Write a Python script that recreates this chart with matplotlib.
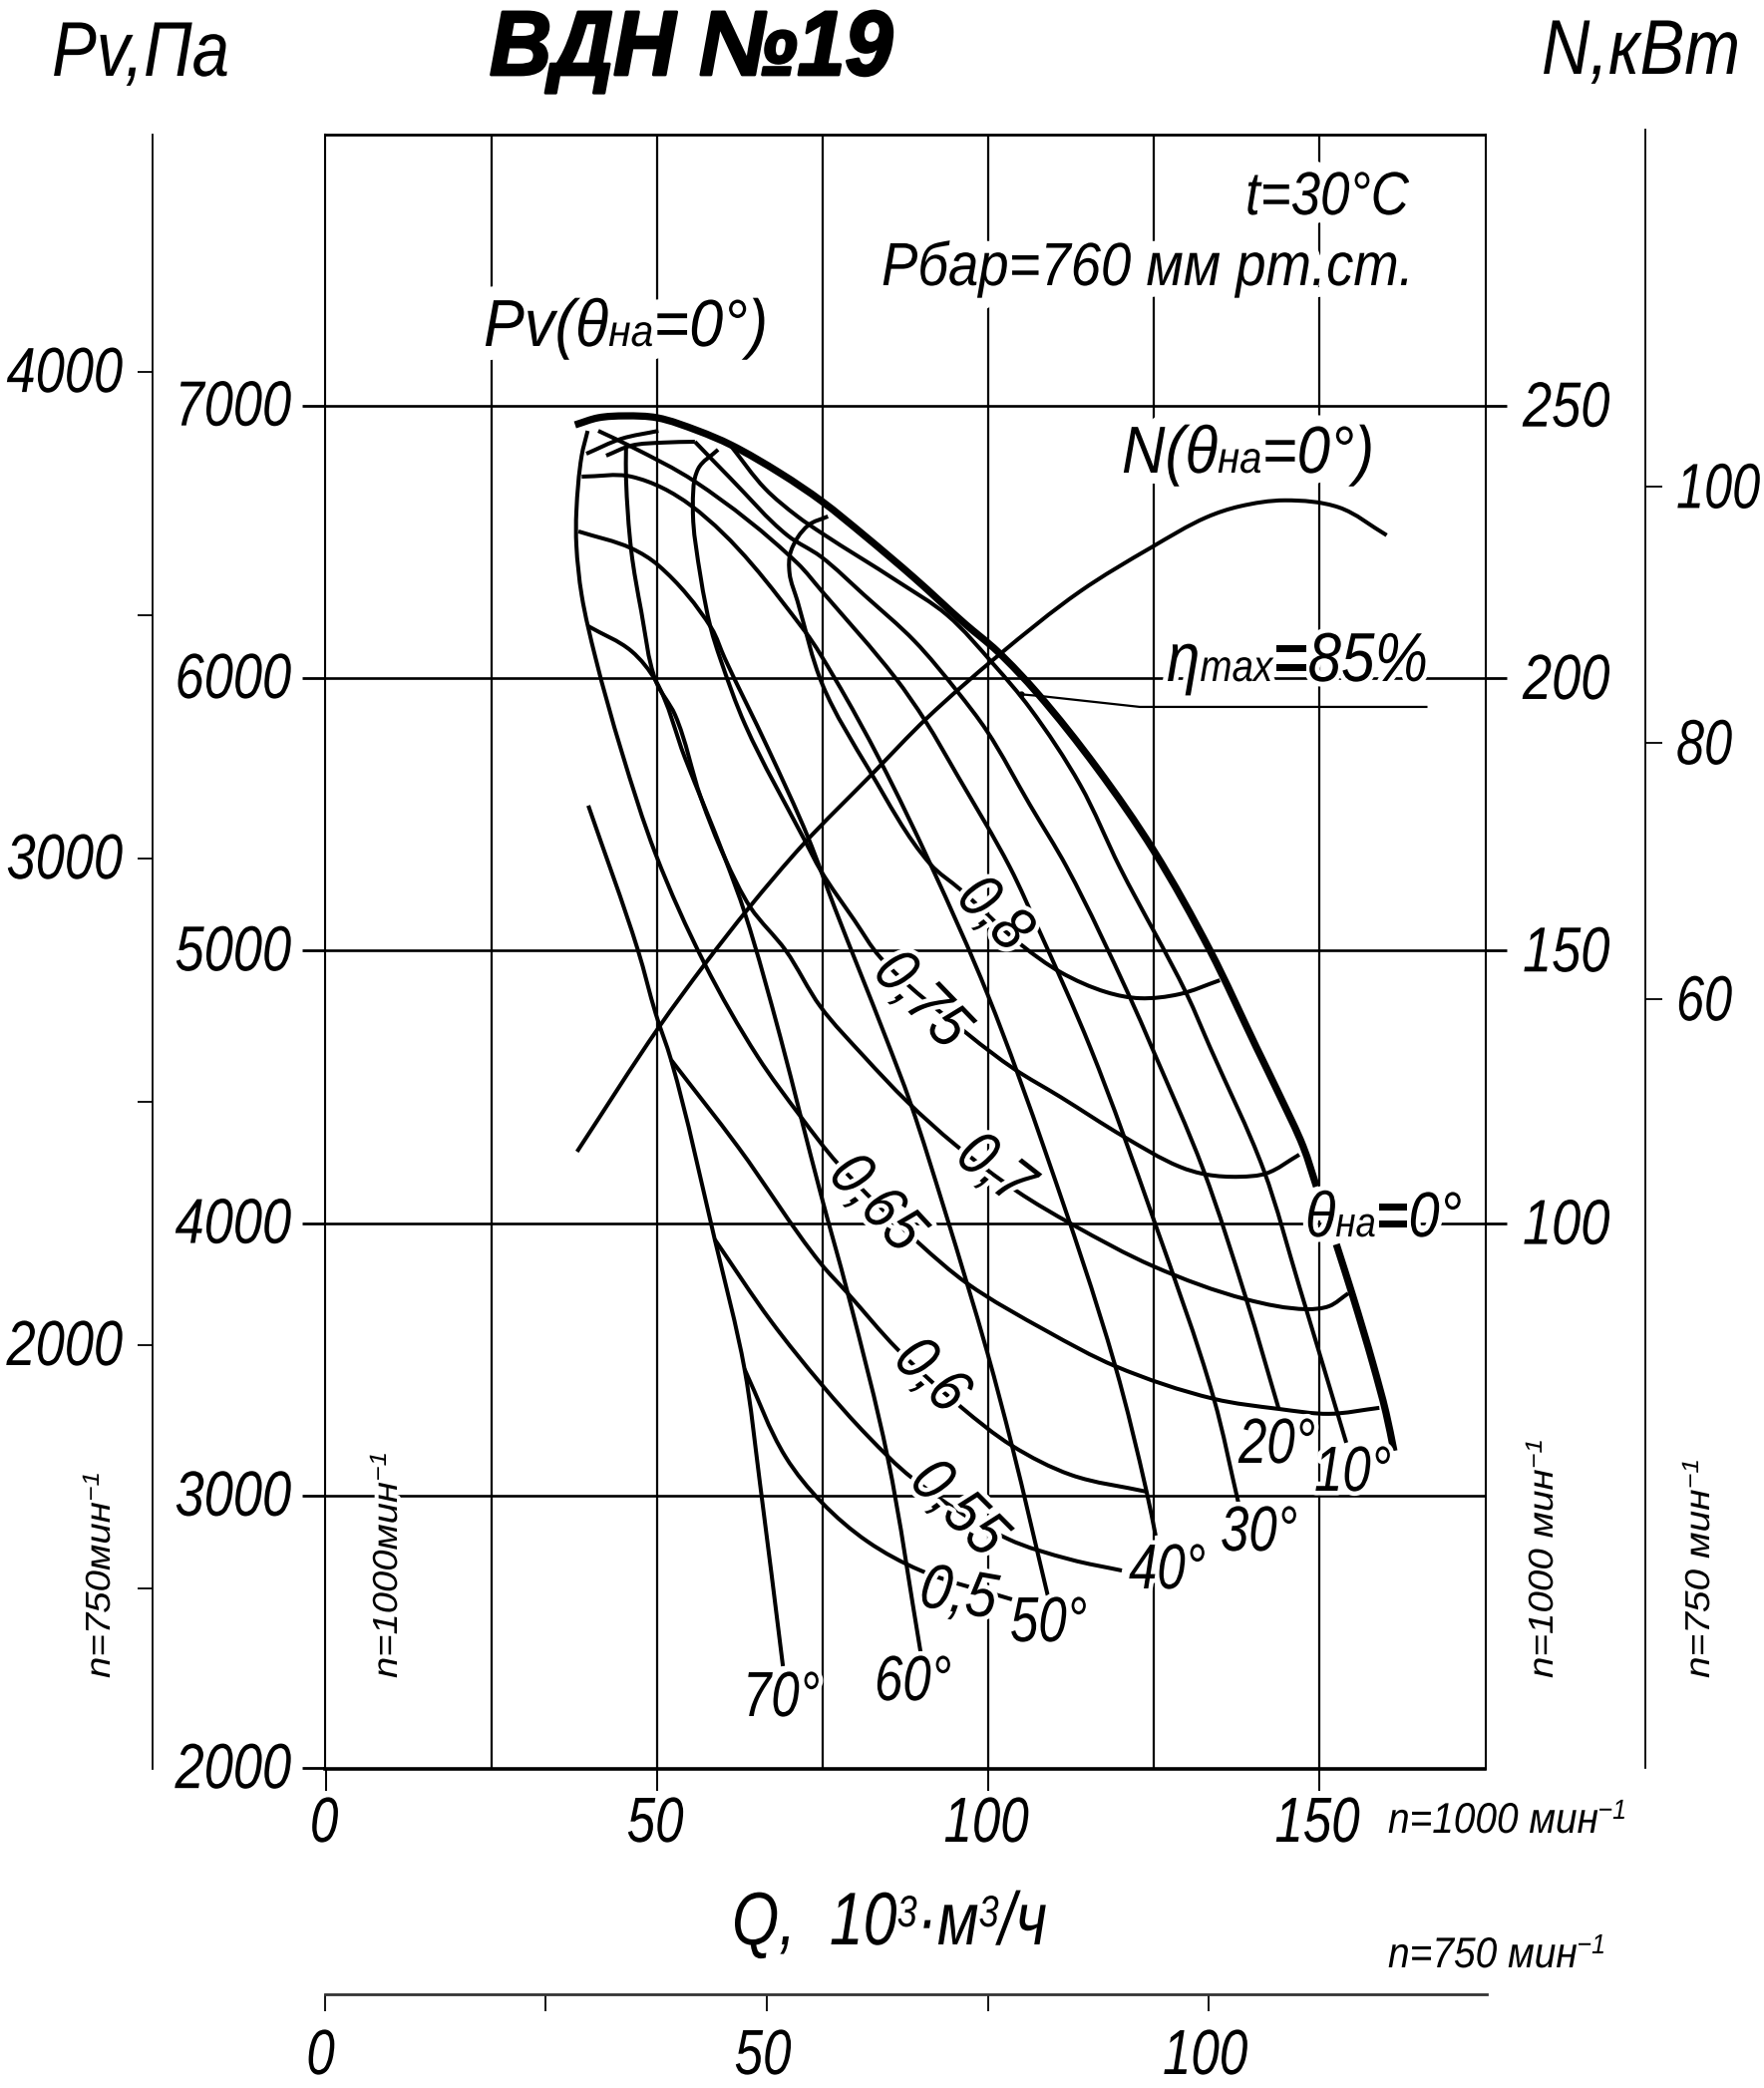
#!/usr/bin/env python
"""Fan chart VDN-19: pressure and power against flow."""

import math

import matplotlib

matplotlib.use("Agg")
import matplotlib.pyplot as plt
import numpy as np
from matplotlib.font_manager import FontProperties
from matplotlib.patheffects import AbstractPathEffect
from matplotlib.patches import PathPatch
from matplotlib.path import Path
from matplotlib.text import Text, TextPath
from matplotlib.transforms import Affine2D, Bbox

W, H = 1769, 2094
FAMILY = ["Liberation Sans Narrow", "Liberation Sans", "DejaVu Sans"]

# curves, Q in 10^3 m3/h at n=1000, Pv in Pa
ENV_Q = [37.6, 41.1, 45.2, 50.0, 56.2, 61.1, 68.7, 74.9, 81.3, 88.9, 96.4, 101.4, 107.4, 116.4, 125.0, 133.5, 140.5, 144.0, 147.6, 149.6]
ENV_P = [6929, 6955, 6962, 6955, 6907, 6856, 6750, 6648, 6523, 6366, 6201, 6098, 5945, 5671, 5367, 5001, 4646, 4470, 4280, 4134]
ENV2_Q = [152.6, 155.1, 158.1, 160.1, 161.3]
ENV2_P = [3922, 3731, 3486, 3304, 3164]

POWER_Q = [37.9, 50.3, 57.2, 63.9, 72.0, 82.4, 90.8, 101.4, 113.9, 124.7, 133.0, 138.0, 144.8, 153.0, 160.2]
POWER_N = [113.1, 136.0, 147.5, 157.9, 169.4, 182.3, 192.7, 204.0, 215.9, 224.0, 229.5, 231.5, 232.6, 231.3, 226.2]

T10_Q = [61.1, 66.3, 71.2, 74.9, 86.3, 93.8, 100.9, 106.3, 113.9, 119.9, 130.0, 133.5, 141.6, 147.0, 154.1]
T10_P = [6853, 6695, 6593, 6531, 6355, 6231, 6048, 5890, 5608, 5305, 4840, 4646, 4196, 3768, 3194]
T20_TOP_Q = [42.3, 46.1, 50.9, 55.7]
T20_TOP_P = [6816, 6853, 6864, 6867]
T20_Q = [55.7, 61.1, 69.7, 74.7, 81.3, 88.9, 95.3, 99.8, 106.3, 111.9, 121.4, 124.7, 132.5, 139.0, 143.9]
T20_P = [6867, 6732, 6523, 6446, 6304, 6135, 5952, 5806, 5535, 5305, 4829, 4646, 4196, 3720, 3318]
T30_Q = [41.1, 46.1, 55.7, 71.2, 74.9, 86.0, 90.5, 95.3, 103.3, 107.7, 115.4, 125.0, 134.1, 137.8]
T30_P = [6907, 6849, 6721, 6421, 6318, 6000, 5843, 5645, 5305, 5074, 4646, 4013, 3355, 2974]
T40_Q = [38.6, 46.1, 55.1, 72.3, 76.8, 83.7, 91.3, 99.9, 108.9, 119.2, 124.0, 125.3]
T40_P = [6739, 6739, 6633, 6172, 6000, 5696, 5316, 4840, 4244, 3475, 3007, 2853]
T50_Q = [38.1, 46.1, 50.2, 58.2, 60.2, 66.7, 72.8, 76.8, 84.5, 88.3, 93.4, 96.8, 99.9, 103.6, 109.0]
T50_P = [6538, 6476, 6413, 6183, 6073, 5744, 5415, 5158, 4683, 4438, 4050, 3779, 3523, 3183, 2634]
T60_Q = [39.6, 46.1, 49.8, 54.2, 60.2, 63.3, 68.6, 71.7, 74.7, 78.8, 84.8, 89.8]
T60_P = [6190, 6099, 5989, 5707, 5341, 5133, 4683, 4390, 4108, 3742, 3142, 2425]
T70_Q = [39.6, 47.1, 49.8, 52.1, 58.7, 63.2, 65.5, 69.0]
T70_P = [5532, 5001, 4767, 4599, 3940, 3464, 3051, 2374]

E80_Q = [75.8, 72.8, 70.2, 70.0, 71.2, 75.0, 82.1, 91.3, 95.8, 105.1, 110.9, 117.9, 122.9, 128.9, 135.0]
E80_P = [6593, 6560, 6465, 6384, 6282, 5974, 5660, 5316, 5224, 5019, 4921, 4847, 4825, 4840, 4891]
E75_Q = [59.2, 56.2, 55.4, 56.6, 58.1, 59.5, 63.3, 72.3, 74.7, 79.8, 83.7, 97.1, 103.9, 110.9, 120.5, 128.9, 133.0, 138.0, 142.0, 147.0]
E75_P = [6838, 6768, 6622, 6366, 6183, 6073, 5828, 5404, 5294, 5111, 4975, 4690, 4566, 4463, 4317, 4207, 4178, 4170, 4182, 4251]
E70_Q = [45.3, 45.3, 46.1, 47.6, 49.8, 52.7, 56.6, 60.2, 64.1, 69.4, 74.7, 81.3, 87.8, 95.0, 104.4, 112.7, 125.0, 139.0, 148.1, 151.5, 154.4]
E70_P = [6842, 6732, 6465, 6245, 5989, 5865, 5561, 5341, 5158, 5001, 4793, 4610, 4445, 4288, 4116, 3995, 3841, 3720, 3684, 3695, 3742]
E65_Q = [39.5, 38.6, 37.8, 37.8, 38.6, 40.7, 44.6, 49.8, 57.2, 65.2, 71.7, 77.3, 89.6, 96.8, 108.9, 119.2, 134.1, 143.9, 151.5, 159.1]
E65_P = [6907, 6816, 6611, 6487, 6304, 6073, 5733, 5352, 4950, 4610, 4390, 4218, 3925, 3779, 3603, 3475, 3355, 3318, 3300, 3322]
E60_Q = [52.1, 62.2, 74.7, 78.8, 86.3, 95.9, 103.6, 112.5, 124.0]
E60_P = [4599, 4280, 3852, 3742, 3537, 3325, 3183, 3076, 3014]
E55_Q = [58.7, 67.2, 74.9, 81.8, 88.5, 102.9, 112.5, 120.2]
E55_P = [3940, 3640, 3406, 3219, 3065, 2842, 2765, 2725]
E50_Q = [63.2, 69.4, 74.9, 81.8, 89.8, 103.6]
E50_P = [3464, 3142, 2974, 2831, 2725, 2619]
ARC_Q = [39.3, 44.6, 50.2]
ARC_P = [6823, 6878, 6907]

LEADER_Q = [105.0, 107.9, 122.9, 166.2]
LEADER_P = [5940, 5934, 5894, 5894]

PV_TICKS = [2000, 3000, 4000, 5000, 6000, 7000]
Q_TICKS = [0, 50, 100, 150]
Q_GRID = [25, 50, 75, 100, 125, 150]
N_TICKS = [100, 150, 200, 250]
PV750_TICKS = [1500, 2000, 2500, 3000, 3500, 4000]
PV750_LABELS = [2000, 3000, 4000]
N750_TICKS = [60, 80, 100]
Q750_TICKS = [0, 25, 50, 75, 100]
Q750_LABELS = [0, 50, 100]

ANGLE_LABELS = ["70°", "60°", "50°", "40°", "30°", "20°", "10°"]
ETA_LABELS = ["0,8", "0,75", "0,7", "0,65", "0,6", "0,55", "0,5"]

fig = plt.figure(figsize=(W / 100, H / 100), dpi=100, facecolor="white")
renderer = fig.canvas.get_renderer()


class Squeeze(AbstractPathEffect):
    """Draw the glyphs narrower, the sheet uses a condensed italic."""

    def __init__(self, sx, stroke=0):
        super().__init__()
        self.sx = sx
        self.stroke = stroke

    def draw_path(self, renderer, gc, tpath, affine, rgbFace=None):
        narrow = Affine2D().scale(self.sx, 1) + affine
        if self.stroke:
            gc0 = renderer.new_gc()
            gc0.copy_properties(gc)
            gc0.set_linewidth(self.stroke)
            gc0.set_foreground("black")
            renderer.draw_path(gc0, tpath, narrow, rgbFace)
            gc0.restore()
        else:
            renderer.draw_path(gc, tpath, narrow, rgbFace)


class NarrowText(Text):
    sx = 1.0

    def get_window_extent(self, renderer=None, dpi=None):
        box = super().get_window_extent(renderer, dpi)
        ox, oy = self.get_transform().transform(self.get_position())
        rot = self.get_rotation()
        squash = (Affine2D().translate(-ox, -oy).rotate_deg(-rot).scale(self.sx, 1)
                  .rotate_deg(rot).translate(ox, oy))
        return Bbox.null().union([Bbox([p, p]) for p in squash.transform(box.corners())])


def rect(left, top, right, bottom):
    return [left / W, 1 - bottom / H, (right - left) / W, (bottom - top) / H]


def font(size, bold=False):
    return FontProperties(family=FAMILY, style="italic", size=size, weight="bold" if bold else "normal")


def put(x, y, parts, rot=0, sx=0.8, width=None, halo=9, align="left", stroke=0):
    # parts are (text, size[, dy, bold]); x, y is the baseline start in picture pixels
    parts = [tuple(p) + (0, False)[len(p) - 2:] for p in parts]
    natural = [renderer.get_text_width_height_descent(p[0], font(p[1], p[3]), False)[0] for p in parts]
    if width:
        sx = width / sum(natural)
    a = math.radians(rot)
    ux, uy = math.cos(a), math.sin(a)
    total = sum(natural) * sx
    X, Y = x, H - y
    if align == "right":
        X -= total
    if align == "center":
        h = parts[0][1] * 100 / 72 * 0.69
        X += -total / 2 * ux + h / 2 * uy
        Y += -total / 2 * uy - h / 2 * ux
    for (s, size, dy, bold), w in zip(parts, natural):
        px, py = X - dy * uy, Y + dy * ux
        fp = font(size, bold)
        if s.strip() and halo:
            outline = TextPath((0, 0), s, size=size * 100 / 72, prop=fp)
            fig.add_artist(PathPatch(outline, fc="white", ec="white", lw=halo * 0.72, zorder=5, joinstyle="round",
                                     transform=Affine2D().scale(sx, 1).rotate_deg(rot).translate(px, py)))
        label = NarrowText(px / W, py / H, s, fontproperties=fp, rotation=rot, rotation_mode="anchor",
                           ha="left", va="baseline", zorder=6, color="black")
        label.sx = sx
        label.set_path_effects([Squeeze(sx, stroke)])
        fig.add_artist(label)
        X += w * sx * ux
        Y += w * sx * uy


def smooth(ax, q, p, lw=2.9, **kw):
    # bezier through the read points, no extra points added
    pts = ax.transData.transform(np.column_stack([q, p]).astype(float))
    verts = [pts[0]]
    codes = [Path.MOVETO]
    lengths = np.hypot(*np.diff(pts, axis=0).T)
    tangents = np.zeros_like(pts)
    tangents[0] = pts[1] - pts[0]
    tangents[-1] = pts[-1] - pts[-2]
    for i in range(1, len(pts) - 1):
        tangents[i] = (pts[i] - pts[i - 1]) / lengths[i - 1] + (pts[i + 1] - pts[i]) / lengths[i]
    tangents /= np.hypot(*tangents.T)[:, None]
    for i in range(len(pts) - 1):
        step = lengths[i] / 3
        verts += [pts[i] + tangents[i] * step, pts[i + 1] - tangents[i + 1] * step, pts[i + 1]]
        codes += [Path.CURVE4] * 3
    verts = ax.transData.inverted().transform(np.array(verts))
    ax.add_patch(PathPatch(Path(verts, codes), fc="none", ec="black", lw=lw, capstyle="butt", **kw))


def outer_axis(box):
    a = fig.add_axes(rect(*box))
    a.patch.set_visible(False)
    for side in a.spines.values():
        side.set_visible(False)
    a.set_xticks([])
    a.set_yticks([])
    return a


def tick_px(axis, x, y):
    px, py = axis.transData.transform((x, y))
    return px, H - py


ax = fig.add_axes(rect(325.5, 135, 1489.5, 1774))
ax.set_xlim(-0.24, 175.1)
ax.set_ylim(1997, 7994)
for name, width in [("top", 2.0), ("bottom", 2.6), ("left", 1.5), ("right", 1.5)]:
    ax.spines[name].set_linewidth(width)
ax.vlines(Q_GRID, 1997, 7994, color="black", lw=1.6, zorder=1)
ax.hlines(PV_TICKS[1:], -0.24, 175.1, color="black", lw=1.9, zorder=1)
ax.set_xticks(Q_TICKS)
ax.set_yticks(PV_TICKS)
ax.tick_params(axis="x", length=16, width=1.4, labelbottom=False)
ax.tick_params(axis="y", length=16.5, width=2.0, labelleft=False)

ax_n = ax.twinx()
ax_n.set_ylim((1997 - 2000) / 20, (7994 - 2000) / 20)
ax_n.set_yticks(N_TICKS)
ax_n.tick_params(axis="y", length=15, width=2.0, labelright=False)
ax_n.set_xlim(ax.get_xlim())
ax_n.patch.set_visible(False)
for side in ax_n.spines.values():
    side.set_visible(False)

smooth(ax, ENV_Q, ENV_P, lw=5.2, joinstyle="round")
smooth(ax, ENV2_Q, ENV2_P, lw=5.2)
for q, p in [(T10_Q, T10_P), (T20_TOP_Q, T20_TOP_P), (T20_Q, T20_P), (T30_Q, T30_P), (T40_Q, T40_P),
             (T50_Q, T50_P), (T60_Q, T60_P), (T70_Q, T70_P), (E80_Q, E80_P), (E75_Q, E75_P),
             (E70_Q, E70_P), (E65_Q, E65_P), (E60_Q, E60_P), (E55_Q, E55_P), (E50_Q, E50_P),
             (ARC_Q, ARC_P)]:
    smooth(ax, q, p)
smooth(ax, POWER_Q, 2000 + np.array(POWER_N) * 20)
ax.plot(LEADER_Q, LEADER_P, color="black", lw=1.6, zorder=3)
ax.plot(LEADER_Q[0], LEADER_P[0], "o", color="black", ms=3.5, zorder=3)

# left scale for n=750
ax_p750 = outer_axis((153, 135, 155, 1774))
ax_p750.spines["left"].set_visible(True)
ax_p750.spines["left"].set_linewidth(1.3)
ax_p750.set_ylim(1129, 4488)
ax_p750.set_yticks(PV750_TICKS)
ax_p750.tick_params(axis="y", length=11, width=1.3, labelleft=False)

# right scale for n=750
ax_n750 = outer_axis((1648, 130, 1650, 1773))
ax_n750.yaxis.tick_right()
ax_n750.spines["right"].set_visible(True)
ax_n750.spines["right"].set_linewidth(1.3)
ax_n750.set_ylim(0, 127.9)
ax_n750.set_yticks(N750_TICKS)
ax_n750.tick_params(axis="y", length=12, width=1.3, labelright=False)

# flow scale for n=750
ax_q750 = outer_axis((325.5, 1998, 1491, 2000))
ax_q750.spines["bottom"].set_visible(True)
ax_q750.spines["bottom"].set_linewidth(2.0)
ax_q750.spines["bottom"].set_color("#333333")
ax_q750.set_xlim(0, 131.4)
ax_q750.set_xticks(Q750_TICKS)
ax_q750.tick_params(axis="x", length=12, width=1.3, labelbottom=False)

# scale numbers
for v in PV_TICKS:
    put(292, tick_px(ax, 0, v)[1] + 20, [(str(v), 46)], sx=0.82, align="right", halo=0)
for v in PV750_LABELS:
    put(123, tick_px(ax_p750, 0, v)[1] + 20, [(str(v), 46)], sx=0.82, align="right", halo=0)
for v in N_TICKS:
    put(1527, tick_px(ax_n, 0, v)[1] + 21, [(str(v), 46)], sx=0.82, halo=0)
for v in N750_TICKS:
    put(1681, tick_px(ax_n750, 0, v)[1] + 21, [(str(v), 46)], sx=0.79, halo=0)
for v in Q_TICKS:
    px = tick_px(ax, v, 2000)[0]
    put(px - 2 - 0.8 * 17.7 * len(str(v)), 1847, [(str(v), 46)], halo=0)
for v in Q750_LABELS:
    px = tick_px(ax_q750, v, 0)[0]
    put(px - 4 - 0.8 * 17.7 * len(str(v)), 2080, [(str(v), 46)], halo=0)

# headers
put(52, 76, [("Pv,Па", 56)], width=178, halo=0)
put(491, 75, [("ВДН №19", 66, 0, True)], width=404, halo=0, stroke=2)
put(1546, 74, [("N,кВm", 56)], width=199, halo=0)
put(1249, 215, [("t=30°C", 44)], width=164, halo=24)
put(884, 286, [("Pбар=760 мм pm.cm.", 44)], width=534, halo=24)
put(485, 347, [("Pv(θ", 48), ("на", 32), ("=0°)", 48)], width=285, halo=28)
put(1125, 474, [("N(θ", 48), ("на", 32), ("=0°)", 48)], width=253, halo=22)
put(1170, 683, [("η", 50), ("max", 32), ("=", 50, 0, True), ("85%", 50)], width=262, halo=10)
put(1309, 1240, [("θ", 46), ("на", 30), ("=", 46, 0, True), ("0°", 46)], width=157, halo=10)

# blade angles
ANGLE_X = [745, 877, 1013, 1132, 1224, 1242, 1318]
ANGLE_Y = [1721, 1705, 1646, 1593, 1555, 1467, 1495]
for text, x, y in zip(ANGLE_LABELS, ANGLE_X, ANGLE_Y):
    put(x, y, [(text, 46)], width=77)

# efficiency isolines
ETA_X = [1000, 927, 1000, 882, 937, 964, 962]
ETA_Y = [914, 1000, 1170, 1204, 1377, 1510, 1595]
ETA_ROT = [-45, -46, -38, -47, -45, -45, -10]
for text, x, y, rot in zip(ETA_LABELS, ETA_X, ETA_Y, ETA_ROT):
    put(x, y, [(text, 46)], rot=rot, sx=0.87, align="center")

# speed notes
put(1392, 1838, [("n=1000 мин", 31), ("−1", 20, 14)], width=239, halo=0)
put(1392, 1973, [("n=750 мин", 31), ("−1", 20, 14)], width=218, halo=0)
put(734, 1950, [("Q,  10", 54), ("3", 32, 18), ("·м", 54), ("3", 32, 18), ("/ч", 54)], width=316, halo=0)
put(110, 1683, [("n=750мин", 25), ("−1", 17, 11)], rot=90, width=207, halo=0)
put(398, 1683, [("n=1000мин", 25), ("−1", 17, 11)], rot=90, width=227, halo=8)
put(1557, 1683, [("n=1000 мин", 25), ("−1", 17, 11)], rot=90, width=240, halo=0)
put(1714, 1683, [("n=750 мин", 25), ("−1", 17, 11)], rot=90, width=220, halo=0)

fig.savefig("out.png", dpi=100, facecolor="white")
